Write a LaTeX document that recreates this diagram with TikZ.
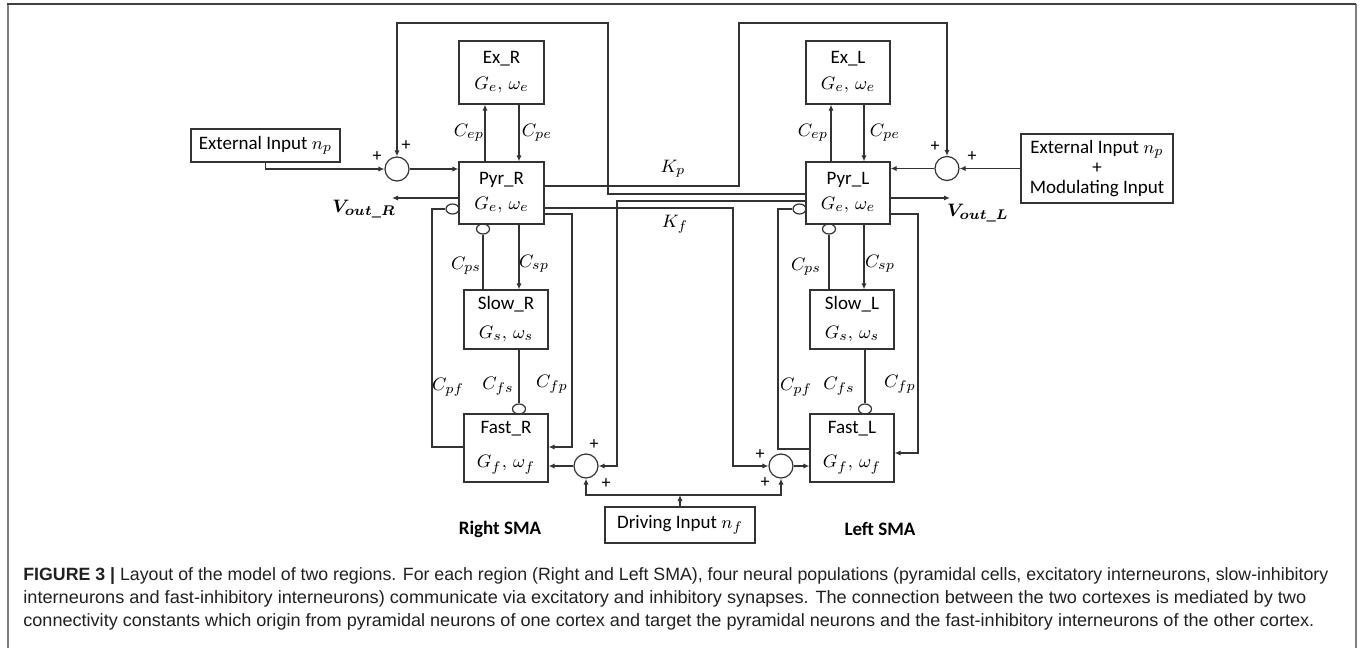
\documentclass[tikz,border=0pt]{standalone}
\usepackage{fontspec}
\setmainfont{Carlito}
\newfontfamily\capfont{Liberation Sans}
\usepackage{bm}
\usetikzlibrary{arrows.meta,shapes.geometric,calc}
\definecolor{wirecol}{HTML}{333333}
\definecolor{capcol}{HTML}{231F20}
\newlength\mycapw
\newcommand\capline[2]{\settowidth\mycapw{#2}\pgfmathsetmacro\mysx{#1/\mycapw}\scalebox{\mysx}[1]{#2}}
\begin{document}
\begin{tikzpicture}[x=0.5pt,y=-0.5pt,
  wire/.style={draw=wirecol, line width=0.6pt},
  arr/.style={wire, -{Latex[length=3pt,width=2.6pt]}},
  box/.style={wire, rectangle, minimum width=42.5pt, align=center, inner sep=0pt, font=\fontsize{9.5}{12}\selectfont},
  sum/.style={wire, circle, minimum size=12pt, inner sep=0pt},
  inh/.style={wire, ellipse, minimum width=6.5pt, minimum height=5pt, inner sep=0pt},
  lab/.style={font=\fontsize{9.3}{11}\selectfont, inner sep=0pt},
  plus/.style={font=\fontsize{9}{11}\selectfont, inner sep=0pt},
  sma/.style={font=\bfseries\fontsize{9.5}{12}\selectfont, inner sep=0pt},
  capl/.style={anchor=base west, inner sep=0pt, text=capcol, font=\capfont\fontsize{8.9}{11}\selectfont}]
\useasboundingbox (0,0) rectangle (1362,648);
% frame
\draw[draw=black!50, line width=1pt] (7.5,4) -- (7.5,648);
\draw[draw=black!50, line width=1pt] (1355.5,4) -- (1355.5,648);
\draw[draw=black!75, line width=1pt] (7,4) -- (1356,4);

% boxes right region
\node[box, minimum height=31.5pt] (ExR) at (501.5,72.5) {Ex\_R\\[1pt]$G_e,\,\omega_e$};
\node[box, minimum height=31pt] (PyrR) at (501.5,193) {Pyr\_R\\[0.5pt]$G_e,\,\omega_e$};
\node[box, minimum width=42pt, minimum height=29.5pt] (SlowR) at (506,319.5) {Slow\_R\\[2.5pt]$G_s,\,\omega_s$};
\node[box, minimum width=42pt, minimum height=34pt] (FastR) at (506,448) {Fast\_R\\[5pt]$G_f,\,\omega_f$};
% boxes left region
\node[box, minimum width=42pt, minimum height=31.5pt] (ExL) at (848,72.5) {Ex\_L\\[1pt]$G_e,\,\omega_e$};
\node[box, minimum width=42pt, minimum height=31pt] (PyrL) at (848,193) {Pyr\_L\\[0.5pt]$G_e,\,\omega_e$};
\node[box, minimum width=42pt, minimum height=29.5pt] (SlowL) at (852,319.5) {Slow\_L\\[2.5pt]$G_s,\,\omega_s$};
\node[box, minimum width=42pt, minimum height=34pt] (FastL) at (852,448) {Fast\_L\\[5pt]$G_f,\,\omega_f$};
% inputs
\node[box, minimum width=74.5pt, minimum height=16.5pt] (ExtR) at (265.5,145.5) {External Input $n_p$};
\node[box, minimum width=76pt, minimum height=34.5pt] (ExtL) at (1097,168.5) {External Input $n_p$\\[-2pt]+\\[-2pt]Modulating Input};
\node[box, minimum width=75pt, minimum height=18pt] (Drive) at (680,525) {Driving Input $n_f$};

% summing junctions
\node[sum] (SR) at (397,169) {};
\node[sum] (SL) at (947,168.5) {};
\node[sum] (FR) at (586,466) {};
\node[sum] (FL) at (781,466) {};

% inhibitory synapse endings
\node[inh] (iPR) at (452.5,209) {};
\node[inh] (iPRb) at (483,229) {};
\node[inh] (iFR) at (519,409) {};
\node[inh] (iPL) at (799.5,209) {};
\node[inh] (iPLb) at (829,229) {};
\node[inh] (iFL) at (865,409) {};

% helper coordinates
\coordinate (vR) at (392,198);
\coordinate (vL) at (950,198);
\coordinate (epR) at (485,0); \coordinate (peR) at (519,0);
\coordinate (epL) at (831,0); \coordinate (peL) at (864,0);
\coordinate (fpR) at (572,214); \coordinate (fpRb) at (572,447);
\coordinate (pfR) at (432,209); \coordinate (pfRb) at (432,447);
\coordinate (fpL) at (918,214); \coordinate (fpLb) at (918,453);
\coordinate (pfL) at (778,209); \coordinate (pfLb) at (778,449);
\coordinate (kpR) at (739,186); \coordinate (kpRt) at (739,23);
\coordinate (kpL) at (608,194); \coordinate (kpLt) at (608,23);
\coordinate (kfR) at (733,208);
\coordinate (kfL) at (617,201);
\coordinate (dj) at (680,495);

% right region connectors
\draw[arr] (ExtR.south) |- (SR.west);
\draw[arr] (SR.east) -- (PyrR.west |- SR.east);
\draw[arr] (PyrR.north -| epR) -- (ExR.south -| epR);
\draw[arr] (ExR.south -| peR) -- (PyrR.north -| peR);
\draw[arr] (PyrR.west |- vR) -- (vR);
\draw[wire] (FastR.west |- pfRb) -- (pfRb) -- (pfR) -- (iPR.west);
\draw[wire] (SlowR.north -| iPRb) -- (iPRb.south);
\draw[arr] (PyrR.south -| peR) -- (SlowR.north -| peR);
\draw[wire] (SlowR.south -| iFR) -- (iFR.north);
\draw[arr] (PyrR.east |- fpR) -- (fpR) -- (fpRb) -- (FastR.east |- fpRb);
\draw[arr] (FR.west) -- (FastR.east |- FR.west);

% left region connectors
\draw[arr] (ExtL.west |- SL.east) -- (SL.east);
\draw[arr] (SL.west) -- (PyrL.east |- SL.west);
\draw[arr] (PyrL.north -| epL) -- (ExL.south -| epL);
\draw[arr] (ExL.south -| peL) -- (PyrL.north -| peL);
\draw[arr] (PyrL.east |- vL) -- (vL);
\draw[wire] (FastL.west |- pfLb) -- (pfLb) -- (pfL) -- (iPL.west);
\draw[wire] (SlowL.north -| iPLb) -- (iPLb.south);
\draw[arr] (PyrL.south -| peL) -- (SlowL.north -| peL);
\draw[wire] (SlowL.south -| iFL) -- (iFL.north);
\draw[arr] (PyrL.east |- fpL) -- (fpL) -- (fpLb) -- (FastL.east |- fpLb);
\draw[arr] (FL.east) -- (FastL.west |- FL.east);

% inter-region connections
\draw[arr] (PyrR.east |- kpR) -- (kpR) -- (kpRt) -| (SL.north);
\draw[arr] (PyrL.west |- kpL) -- (kpL) -- (kpLt) -| (SR.north);
\draw[arr] (PyrR.east |- kfR) -- (kfR) |- (FL.west);
\draw[arr] (PyrL.west |- kfL) -- (kfL) |- (FR.east);

% driving input
\draw[arr] (Drive.north) -- (dj);
\draw[arr] (dj) -| (FR.south);
\draw[arr] (dj) -| (FL.south);

% labels
\node[lab] (lCepR) at (469,133) {$C_{ep}$};
\node[lab] (lCpeR) at (537,133) {$C_{pe}$};
\node[lab] (lCepL) at (813,133) {$C_{ep}$};
\node[lab] (lCpeL) at (885,133) {$C_{pe}$};
\node[lab] (lCpsR) at (466,266) {$C_{ps}$};
\node[lab] (lCspR) at (534,264) {$C_{sp}$};
\node[lab] (lCpsL) at (806,267) {$C_{ps}$};
\node[lab] (lCspL) at (880,264) {$C_{sp}$};
\node[lab] (lCpfR) at (448,387) {$C_{pf}$};
\node[lab] (lCfsR) at (498,386) {$C_{fs}$};
\node[lab] (lCfpR) at (552,384) {$C_{fp}$};
\node[lab] (lCpfL) at (796,387) {$C_{pf}$};
\node[lab] (lCfsL) at (839,386) {$C_{fs}$};
\node[lab] (lCfpL) at (900,384) {$C_{fp}$};
\node[lab] (lKp) at (673,169) {$K_p$};
\node[lab] (lKf) at (675,224) {$K_f$};
\node[lab] (lvR) at (364,209) {$\bm{V_{out\_R}}$};
\node[lab] (lvL) at (978,213) {$\bm{V_{out\_L}}$};

% plus signs
\node[plus] (pSR1) at (377,157) {+};
\node[plus] (pSR2) at (406,146) {+};
\node[plus] (pSL1) at (935,147) {+};
\node[plus] (pSL2) at (972,157) {+};
\node[plus] (pFR1) at (594,445) {+};
\node[plus] (pFR2) at (606,484) {+};
\node[plus] (pFL1) at (760,455) {+};
\node[plus] (pFL2) at (765,483) {+};

% region names
\node[sma] (rsma) at (500,529) {Right SMA};
\node[sma] (lsma) at (880,529) {Left SMA};

% caption
\node[capl] (cap1) at (23,580.5) {\capline{652.5}{\textbf{FIGURE 3 |} Layout of the model of two regions. For each region (Right and Left SMA), four neural populations (pyramidal cells, excitatory interneurons, slow-inhibitory}};
\node[capl] (cap2) at (23,603.5) {\capline{641.5}{interneurons and fast-inhibitory interneurons) communicate via excitatory and inhibitory synapses. The connection between the two cortexes is mediated by two}};
\node[capl] (cap3) at (23,626.5) {\capline{645.5}{connectivity constants which origin from pyramidal neurons of one cortex and target the pyramidal neurons and the fast-inhibitory interneurons of the other cortex.}};
\end{tikzpicture}
\end{document}
